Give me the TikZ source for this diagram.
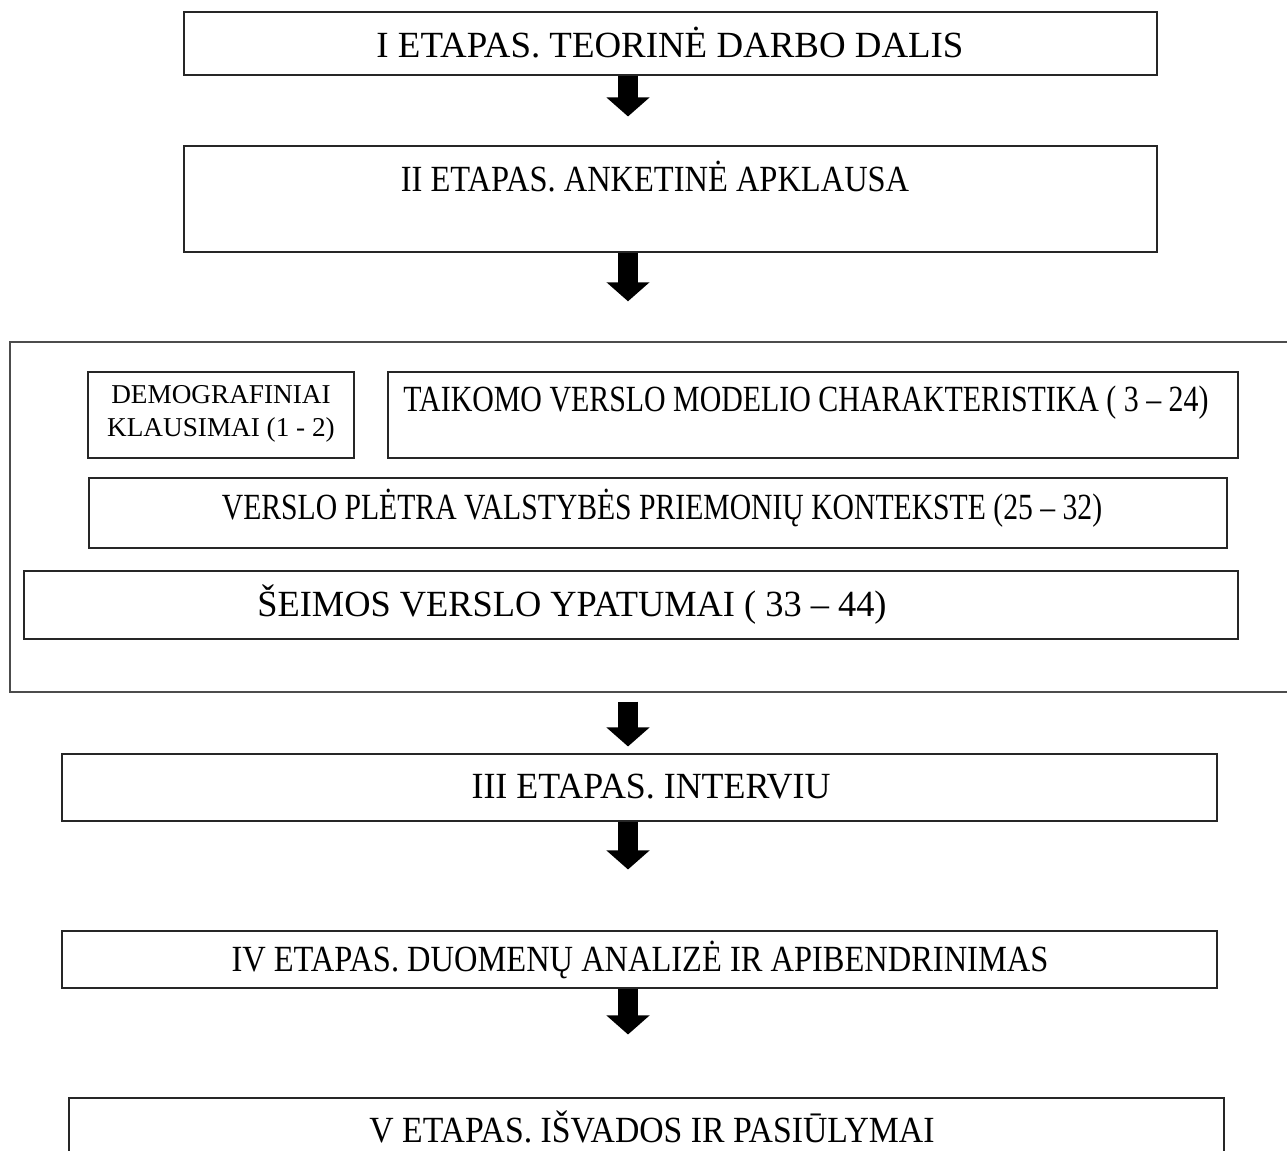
\documentclass[tikz,border=0pt]{standalone}
\usepackage{fontspec}
\setmainfont{Liberation Serif}
\usetikzlibrary{fit,arrows.meta}
\tikzset{
  box/.style={draw=black!85, line width=0.6pt, inner sep=0pt},
  outer/.style={draw=black!70, line width=0.8pt, inner sep=0pt},
  txt/.style={font=\fontsize{21}{25}\selectfont, inner sep=0pt},
  small/.style={font=\fontsize{15.5}{18.5}\selectfont, inner sep=0pt, align=center},
  arr/.style={line width=0.4cm, -{Triangle[width=0.84cm,length=0.38cm]}},
}
\begin{document}
\begin{tikzpicture}[x=0.02cm, y=-0.02cm]
  \useasboundingbox (0,0) rectangle (1287,1151);
  \clip (0,0) rectangle (1287,1151);
  % stages
  \node[box, fit={(184,12) (1157,75)}] (b1) {};
  \node[txt] (t1) at (670,43) {I ETAPAS. TEORINĖ DARBO DALIS};
  \node[box, fit={(184,146) (1157,252)}] (b2) {};
  \node[txt] (t2) at (655,177) {\scalebox{0.88}[1]{II ETAPAS. ANKETINĖ APKLAUSA}};
  % questionnaire parts
  \node[outer, fit={(10,342) (1310,692)}] (q) {};
  \node[box, fit={(88,372) (354,458)}] (q1) {};
  \node[small] (tq1) at (221,414) {DEMOGRAFINIAI\\KLAUSIMAI (1 - 2)};
  \node[box, fit={(388,372) (1238,458)}] (q2) {};
  \node[txt] (tq2) at (806,403) {\scalebox{0.81}[1]{TAIKOMO VERSLO MODELIO CHARAKTERISTIKA ( 3 – 24)}};
  \node[box, fit={(89,478) (1227,548)}] (q3) {};
  \node[txt] (tq3) at (662,508) {\scalebox{0.804}[1]{VERSLO PLĖTRA VALSTYBĖS PRIEMONIŲ KONTEKSTE (25 – 32)}};
  \node[box, fit={(24,571) (1238,639)}] (q4) {};
  \node[txt] (tq4) at (572,605) {\scalebox{0.986}[1]{ŠEIMOS VERSLO YPATUMAI ( 33 – 44)}};
  \node[box, fit={(62,754) (1217,821)}] (b3) {};
  \node[txt] (t3) at (651,787) {\scalebox{0.973}[1]{III ETAPAS. INTERVIU}};
  \node[box, fit={(62,931) (1217,988)}] (b4) {};
  \node[txt] (t4) at (640,960) {\scalebox{0.88}[1]{IV ETAPAS. DUOMENŲ ANALIZĖ IR APIBENDRINIMAS}};
  \node[box, fit={(69,1098) (1224,1180)}] (b5) {};
  \node[txt] (t5) at (652,1127) {\scalebox{0.914}[1]{V ETAPAS. IŠVADOS IR PASIŪLYMAI}};
  % arrows
  \coordinate (ax) at (628,0);
  \draw[arr, shorten >=0.58cm] (b1.south -| ax) -- (b2.north -| ax);
  \draw[arr, shorten >=0.8cm] (b2.south -| ax) -- (q.north -| ax);
  \draw[arr, shorten <=0.18cm, shorten >=0.14cm] (q.south -| ax) -- (b3.north -| ax);
  \draw[arr, shorten >=1.22cm] (b3.south -| ax) -- (b4.north -| ax);
  \draw[arr, shorten >=1.26cm] (b4.south -| ax) -- (b5.north -| ax);
\end{tikzpicture}
\end{document}
